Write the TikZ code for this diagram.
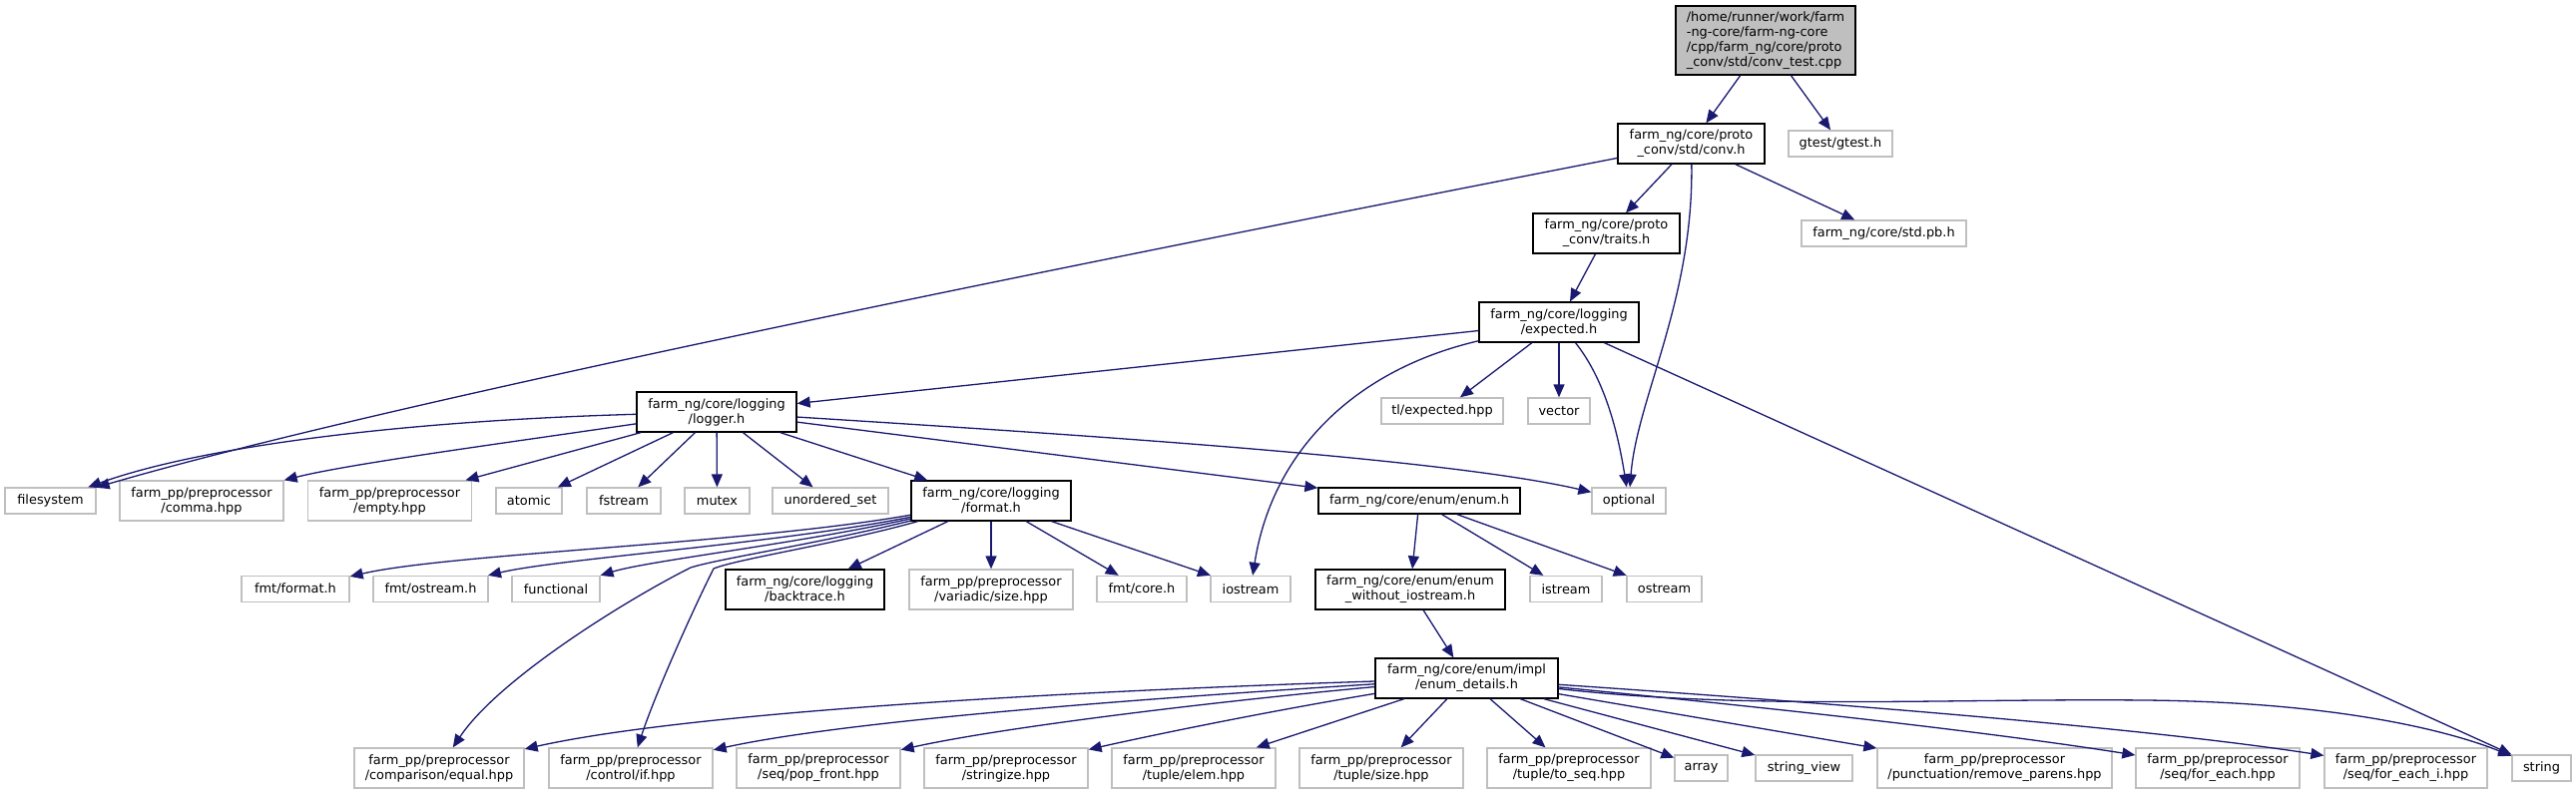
\documentclass[tikz,border=0pt]{standalone}
\usepackage{fontspec}
\setmainfont{DejaVu Sans}
\usetikzlibrary{arrows.meta}
\definecolor{edgec}{HTML}{191970}
\definecolor{extc}{HTML}{BFBFBF}
\definecolor{rootc}{HTML}{BFBFBF}
\begin{document}
\begin{tikzpicture}[x=1pt,y=-1pt,
  base/.style={rectangle, inner sep=0pt, line width=1.3pt, align=center, font=\fontsize{12.9pt}{15pt}\selectfont, fill=white},
  doc/.style={base, draw=black},
  ext/.style={base, draw=extc},
  rootbox/.style={base, draw=black, fill=rootc, align=left},
  sz/.style 2 args={minimum width=#1pt, minimum height=#2pt},
  edge/.style={draw=edgec, line width=1.3pt, -{Triangle[length=13pt,width=11pt]}}
]
\fill[white] (0,0) rectangle (2581,796);
\useasboundingbox (0,0) rectangle (2581,796);

% row 0
\node[rootbox, sz={180}{69}] (root) at (1769,40.5) {/home/runner/work/farm\\-ng-core/farm-ng-core\\/cpp/farm\_ng/core/proto\\\_conv/std/conv\_test.cpp};
% row 1
\node[doc, sz={147}{40}] (conv) at (1694.5,144) {farm\_ng/core/proto\\\_conv/std/conv.h};
\node[ext, sz={104}{26}] (gtest) at (1844,144) {gtest/gtest.h};
% row 2
\node[doc, sz={147}{40}] (traits) at (1609.5,234) {farm\_ng/core/proto\\\_conv/traits.h};
\node[ext, sz={165}{26}] (stdpb) at (1887.5,234) {farm\_ng/core/std.pb.h};
% row 3
\node[doc, sz={160}{40}] (expected) at (1562,323) {farm\_ng/core/logging\\/expected.h};
% row 4
\node[doc, sz={160}{40}] (logger) at (718,413) {farm\_ng/core/logging\\/logger.h};
\node[ext, sz={122}{26}] (tlexp) at (1445,412) {tl/expected.hpp};
\node[ext, sz={62}{26}] (vector) at (1562,412) {vector};
% row 5
\node[ext, sz={91}{26}] (filesystem) at (50.5,502) {filesystem};
\node[ext, sz={164}{40}] (comma) at (202,502) {farm\_pp/preprocessor\\/comma.hpp};
\node[ext, sz={164}{40}] (empty) at (390.5,502) {farm\_pp/preprocessor\\/empty.hpp};
\node[ext, sz={66}{26}] (atomic) at (530,502) {atomic};
\node[ext, sz={74}{26}] (fstream) at (625,502) {fstream};
\node[ext, sz={65}{26}] (mutex) at (718.5,502) {mutex};
\node[ext, sz={116}{26}] (uset) at (832,502) {unordered\_set};
\node[doc, sz={160}{40}] (format) at (993,502) {farm\_ng/core/logging\\/format.h};
\node[doc, sz={202}{26}] (enum) at (1422,502) {farm\_ng/core/enum/enum.h};
\node[ext, sz={74}{26}] (optional) at (1632,502) {optional};
% row 6
\node[ext, sz={108}{26}] (fmtformat) at (296,590.5) {fmt/format.h};
\node[ext, sz={115}{26}] (fmtostream) at (431.5,590.5) {fmt/ostream.h};
\node[ext, sz={88}{26}] (functional) at (557,590.5) {functional};
\node[doc, sz={159}{40}] (backtrace) at (806.5,591) {farm\_ng/core/logging\\/backtrace.h};
\node[ext, sz={164}{40}] (variadic) at (993,591) {farm\_pp/preprocessor\\/variadic/size.hpp};
\node[ext, sz={90}{26}] (fmtcore) at (1144,590.5) {fmt/core.h};
\node[ext, sz={80}{26}] (iostream) at (1253,590.5) {iostream};
\node[doc, sz={190}{40}] (enumwo) at (1413,591) {farm\_ng/core/enum/enum\\\_without\_iostream.h};
\node[ext, sz={72}{26}] (istream) at (1569,590.5) {istream};
\node[ext, sz={75}{26}] (ostream) at (1667.5,590.5) {ostream};
% row 7
\node[doc, sz={183}{40}] (details) at (1469.5,680) {farm\_ng/core/enum/impl\\/enum\_details.h};
% row 8
\node[ext, sz={170}{40}] (equal) at (440,770) {farm\_pp/preprocessor\\/comparison/equal.hpp};
\node[ext, sz={164}{40}] (ifhpp) at (632,770) {farm\_pp/preprocessor\\/control/if.hpp};
\node[ext, sz={164}{40}] (popfront) at (820,770) {farm\_pp/preprocessor\\/seq/pop\_front.hpp};
\node[ext, sz={164}{40}] (stringize) at (1008,770) {farm\_pp/preprocessor\\/stringize.hpp};
\node[ext, sz={164}{40}] (elem) at (1196,770) {farm\_pp/preprocessor\\/tuple/elem.hpp};
\node[ext, sz={164}{40}] (tsize) at (1384,770) {farm\_pp/preprocessor\\/tuple/size.hpp};
\node[ext, sz={164}{40}] (toseq) at (1572,770) {farm\_pp/preprocessor\\/tuple/to\_seq.hpp};
\node[ext, sz={53}{26}] (array) at (1704.5,770) {array};
\node[ext, sz={97}{26}] (stringview) at (1807.5,770) {string\_view};
\node[ext, sz={235}{40}] (removeparens) at (1998.5,770) {farm\_pp/preprocessor\\/punctuation/remove\_parens.hpp};
\node[ext, sz={164}{40}] (foreach) at (2222,770) {farm\_pp/preprocessor\\/seq/for\_each.hpp};
\node[ext, sz={163}{40}] (foreachi) at (2410.5,770) {farm\_pp/preprocessor\\/seq/for\_each\_i.hpp};
\node[ext, sz={59}{26}] (string) at (2546.5,770) {string};

% edges
\draw[edge] (root) -- (conv);
\draw[edge] (root) -- (gtest);
\draw[edge] (conv) .. controls (1100,260) and (400,400) .. (filesystem);
\draw[edge] (conv) -- (traits);
\draw[edge] (conv) .. controls (1697,300) and (1640,400) .. (optional);
\draw[edge] (conv) -- (stdpb);
\draw[edge] (traits) -- (expected);
\draw[edge] (expected) -- (logger);
\draw[edge] (expected) -- (tlexp);
\draw[edge] (expected) -- (vector);
\draw[edge] (expected) .. controls (1610,383) and (1622,440) .. (optional);
\draw[edge] (expected) .. controls (1360,370) and (1275,450) .. (iostream);
\draw[edge] (expected) -- (string);

\draw[edge] (logger) .. controls (400,422) and (200,448) .. (filesystem);
\draw[edge] (logger) .. controls (500,445) and (350,465) .. (comma);
\draw[edge] (logger) -- (empty);
\draw[edge] (logger) -- (atomic);
\draw[edge] (logger) -- (fstream);
\draw[edge] (logger) -- (mutex);
\draw[edge] (logger) -- (uset);
\draw[edge] (logger) -- (format);
\draw[edge] (logger) -- (enum);
\draw[edge] (logger) .. controls (1100,437) and (1450,460) .. (optional);

\draw[edge] (format) .. controls (750,545) and (450,555) .. (fmtformat);
\draw[edge] (format) .. controls (780,545) and (560,560) .. (fmtostream);
\draw[edge] (format) .. controls (800,545) and (650,562) .. (functional);
\draw[edge] (format) .. controls (820,545) and (720,560) .. (692,569) .. controls (630,600) and (500,680) .. (equal);
\draw[edge] (format) .. controls (840,545) and (740,560) .. (715,570) .. controls (690,620) and (655,700) .. (ifhpp);
\draw[edge] (format) -- (backtrace);
\draw[edge] (format) -- (variadic);
\draw[edge] (format) -- (fmtcore);
\draw[edge] (format) -- (iostream);

\draw[edge] (enum) -- (enumwo);
\draw[edge] (enum) -- (istream);
\draw[edge] (enum) -- (ostream);
\draw[edge] (enumwo) -- (details);

\draw[edge] (details) .. controls (1100,692) and (700,712) .. (equal);
\draw[edge] (details) .. controls (1150,700) and (850,722) .. (ifhpp);
\draw[edge] (details) .. controls (1200,705) and (1000,730) .. (popfront);
\draw[edge] (details) .. controls (1260,715) and (1150,738) .. (stringize);
\draw[edge] (details) -- (elem);
\draw[edge] (details) -- (tsize);
\draw[edge] (details) -- (toseq);
\draw[edge] (details) -- (array);
\draw[edge] (details) -- (stringview);
\draw[edge] (details) -- (removeparens);
\draw[edge] (details) .. controls (1800,712) and (2000,735) .. (foreach);
\draw[edge] (details) .. controls (1850,706) and (2150,730) .. (foreachi);
\draw[edge] (details) .. controls (1750,712) and (1950,700) .. (2150,702) .. controls (2350,704) and (2460,735) .. (string);
\end{tikzpicture}
\end{document}
